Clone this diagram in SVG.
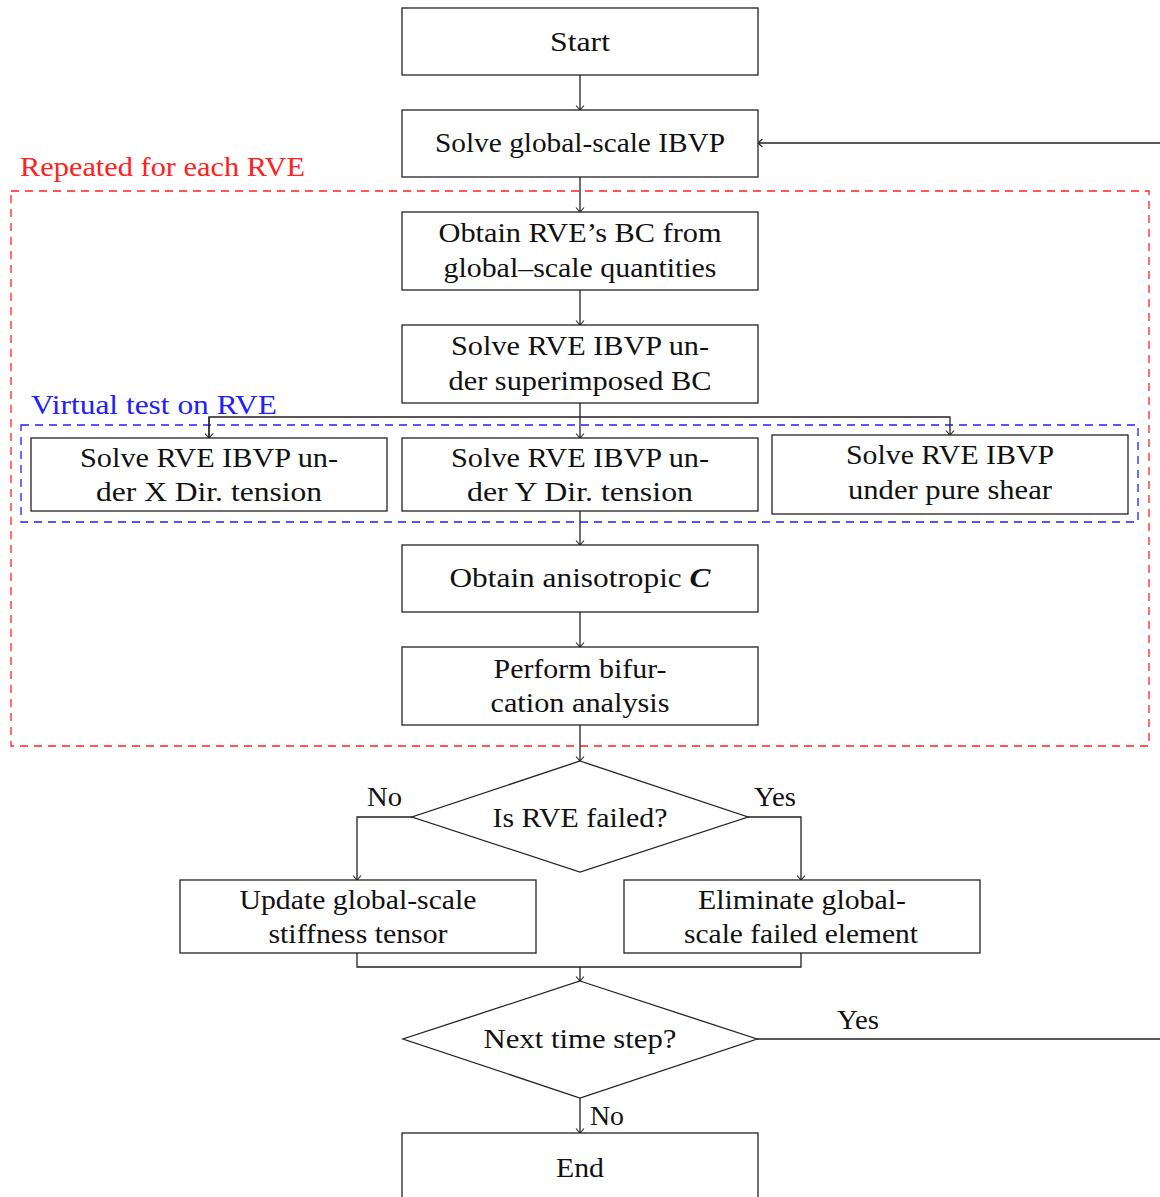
<svg xmlns="http://www.w3.org/2000/svg" width="1160" height="1197" viewBox="0 0 1160 1197">
  <style>
    .box { fill: #fff; stroke: #222; stroke-width: 1.3; }
    .wire { fill: none; stroke: #222; stroke-width: 1.3; }
    .t { font-family: "Liberation Serif", "DejaVu Serif", serif; font-size: 27px; fill: #111; text-anchor: middle; }
    .lbl { font-family: "Liberation Serif", "DejaVu Serif", serif; font-size: 27px; fill: #111; }
    .red { fill: none; stroke: #ff2020; stroke-width: 1.3; stroke-dasharray: 8 6; }
    .blue { fill: none; stroke: #2020ff; stroke-width: 1.3; stroke-dasharray: 8 6; }
  </style>
  <defs>
    <marker id="arr" viewBox="-6 -5 8 10" refX="0" refY="0" markerWidth="8" markerHeight="10" markerUnits="userSpaceOnUse" orient="auto">
      <path d="M-4.5,-4 Q-1,-1 0,0 Q-1,1 -4.5,4" fill="none" stroke="#222" stroke-width="1.1"/>
    </marker>
  </defs>

  <rect width="1160" height="1197" fill="#fff"/>

  <!-- grouping frames -->
  <g id="frame-rve">
    <rect class="red" x="11" y="191" width="1138" height="555"/>
    <text x="20" y="176" font-family="Liberation Serif, DejaVu Serif, serif" font-size="27" fill="#ff2020" textLength="285" lengthAdjust="spacingAndGlyphs">Repeated for each RVE</text>
  </g>
  <g id="frame-virtual">
    <rect class="blue" x="21" y="425" width="1117" height="97"/>
    <text x="31" y="414" font-family="Liberation Serif, DejaVu Serif, serif" font-size="27" fill="#2020ff" textLength="246" lengthAdjust="spacingAndGlyphs">Virtual test on RVE</text>
  </g>

  <!-- connectors -->
  <g id="connectors">
    <path class="wire" d="M580,75 V110" marker-end="url(#arr)"/>
    <path class="wire" d="M580,177 V212" marker-end="url(#arr)"/>
    <path class="wire" d="M580,290 V325" marker-end="url(#arr)"/>
    <path class="wire" d="M580,403 V438" marker-end="url(#arr)"/>
    <path class="wire" d="M209,438 V417 H950 V435" marker-end="url(#arr)"/>
    <path class="wire" d="M209,417 V438" marker-end="url(#arr)"/>
    <path class="wire" d="M580,511 V545" marker-end="url(#arr)"/>
    <path class="wire" d="M580,612 V647" marker-end="url(#arr)"/>
    <path class="wire" d="M580,725 V761" marker-end="url(#arr)"/>
    <path class="wire" d="M412,817 H357 V880" marker-end="url(#arr)"/>
    <path class="wire" d="M748,817 H801 V880" marker-end="url(#arr)"/>
    <path class="wire" d="M357,953 V967 H801 V953"/>
    <path class="wire" d="M580,967 V981" marker-end="url(#arr)"/>
    <path class="wire" d="M757,1039 H1160"/>
    <path class="wire" d="M1160,143 H758" marker-end="url(#arr)"/>
    <path class="wire" d="M580,1098 V1133" marker-end="url(#arr)"/>
    <text class="lbl" x="367" y="806" textLength="35" lengthAdjust="spacingAndGlyphs">No</text>
    <text class="lbl" x="754" y="806" textLength="42" lengthAdjust="spacingAndGlyphs">Yes</text>
    <text class="lbl" x="837" y="1029" textLength="42" lengthAdjust="spacingAndGlyphs">Yes</text>
    <text class="lbl" x="590" y="1125" textLength="34" lengthAdjust="spacingAndGlyphs">No</text>
  </g>

  <g id="start">
    <rect class="box" x="402" y="8" width="356" height="67"/>
    <text class="t" x="580" y="51" textLength="60" lengthAdjust="spacingAndGlyphs">Start</text>
  </g>
  <g id="solve-global">
    <rect class="box" x="402" y="110" width="356" height="67"/>
    <text class="t" x="580" y="152" textLength="290" lengthAdjust="spacingAndGlyphs">Solve global-scale IBVP</text>
  </g>
  <g id="obtain-bc">
    <rect class="box" x="402" y="212" width="356" height="78"/>
    <text class="t" x="580" y="242" textLength="283" lengthAdjust="spacingAndGlyphs">Obtain RVE’s BC from</text>
    <text class="t" x="580" y="277" textLength="273" lengthAdjust="spacingAndGlyphs">global–scale quantities</text>
  </g>
  <g id="solve-superimposed">
    <rect class="box" x="402" y="325" width="356" height="78"/>
    <text class="t" x="580" y="355" textLength="258" lengthAdjust="spacingAndGlyphs">Solve RVE IBVP un-</text>
    <text class="t" x="580" y="390" textLength="263" lengthAdjust="spacingAndGlyphs">der superimposed BC</text>
  </g>
  <g id="solve-x">
    <rect class="box" x="31" y="438" width="356" height="73"/>
    <text class="t" x="209" y="467" textLength="258" lengthAdjust="spacingAndGlyphs">Solve RVE IBVP un-</text>
    <text class="t" x="209" y="501" textLength="226" lengthAdjust="spacingAndGlyphs">der X Dir.  tension</text>
  </g>
  <g id="solve-y">
    <rect class="box" x="402" y="438" width="356" height="73"/>
    <text class="t" x="580" y="467" textLength="258" lengthAdjust="spacingAndGlyphs">Solve RVE IBVP un-</text>
    <text class="t" x="580" y="501" textLength="226" lengthAdjust="spacingAndGlyphs">der Y Dir.  tension</text>
  </g>
  <g id="solve-shear">
    <rect class="box" x="772" y="435" width="356" height="79"/>
    <text class="t" x="950" y="464" textLength="208" lengthAdjust="spacingAndGlyphs">Solve RVE IBVP</text>
    <text class="t" x="950" y="499" textLength="204" lengthAdjust="spacingAndGlyphs">under pure shear</text>
  </g>
  <g id="obtain-c">
    <rect class="box" x="402" y="545" width="356" height="67"/>
    <text class="t" x="580" y="587" textLength="261" lengthAdjust="spacingAndGlyphs">Obtain anisotropic <tspan font-style="italic" font-weight="bold">C</tspan></text>
  </g>
  <g id="bifurcation">
    <rect class="box" x="402" y="647" width="356" height="78"/>
    <text class="t" x="580" y="678" textLength="173" lengthAdjust="spacingAndGlyphs">Perform bifur-</text>
    <text class="t" x="580" y="712" textLength="179" lengthAdjust="spacingAndGlyphs">cation analysis</text>
  </g>
  <g id="is-failed">
    <polygon class="box" points="580,761 748,817 580,872 412,817"/>
    <text class="t" x="580" y="827" textLength="175" lengthAdjust="spacingAndGlyphs">Is RVE failed?</text>
  </g>
  <g id="update-stiffness">
    <rect class="box" x="180" y="880" width="356" height="73"/>
    <text class="t" x="358" y="909" textLength="237" lengthAdjust="spacingAndGlyphs">Update global-scale</text>
    <text class="t" x="358" y="943" textLength="179" lengthAdjust="spacingAndGlyphs">stiffness tensor</text>
  </g>
  <g id="eliminate-element">
    <rect class="box" x="624" y="880" width="356" height="73"/>
    <text class="t" x="802" y="909" textLength="208" lengthAdjust="spacingAndGlyphs">Eliminate global-</text>
    <text class="t" x="801" y="943" textLength="234" lengthAdjust="spacingAndGlyphs">scale failed element</text>
  </g>
  <g id="next-step">
    <polygon class="box" points="580,981 757,1039 580,1098 403,1039"/>
    <text class="t" x="580" y="1048" textLength="193" lengthAdjust="spacingAndGlyphs">Next time step?</text>
  </g>
  <g id="end">
    <rect class="box" x="402" y="1133" width="356" height="80"/>
    <text class="t" x="580" y="1177" textLength="48" lengthAdjust="spacingAndGlyphs">End</text>
  </g>
</svg>
